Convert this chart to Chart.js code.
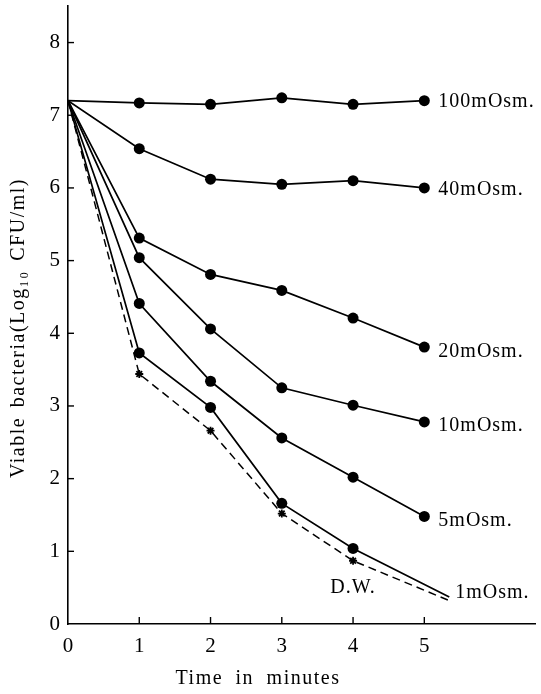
<!DOCTYPE html>
<html>
<head>
<meta charset="utf-8">
<script src="https://cdn.jsdelivr.net/npm/chart.js@4/dist/chart.umd.min.js"></script>
<style>
  html, body { margin: 0; padding: 0; background: #fff; }
  #wrap { width: 541px; height: 694px; }
</style>
</head>
<body>
<div id="wrap"><canvas id="c" width="541" height="694"></canvas></div>
<script>
// ---- data ----
const time = [0, 1, 2, 3, 4, 5];
const osm100 = [7.2, 7.17, 7.15, 7.24, 7.15, 7.2];
const osm40  = [7.2, 6.54, 6.12, 6.05, 6.10, 6.00];
const osm20  = [7.2, 5.31, 4.81, 4.59, 4.21, 3.81];
const osm10  = [7.2, 5.04, 4.06, 3.25, 3.01, 2.78];
const osm5   = [7.2, 4.41, 3.34, 2.56, 2.02, 1.48];
const osm1Time = [0, 1, 2, 3, 4, 5.35];
const osm1   = [7.2, 3.73, 2.98, 1.66, 1.04, 0.37];
const dwTime = [0, 1, 2, 3, 4, 5.33];
const dw     = [7.2, 3.44, 2.66, 1.52, 0.87, 0.33];
const seriesLabels = ['100mOsm.', '40mOsm.', '20mOsm.', '10mOsm.', '5mOsm.', '1mOsm.', 'D.W.'];
const xTicks = [0, 1, 2, 3, 4, 5];
const yTicks = [0, 1, 2, 3, 4, 5, 6, 7, 8];
const xTitle = 'Time in minutes';
const yTitle = 'Viable bacteria(Log\u2081\u2080 CFU/ml)';

const FONT = '"Liberation Serif", "DejaVu Serif", serif';

function pts(xs, ys) { return xs.map((x, i) => ({ x: x, y: ys[i] })); }
function radii(n, r, lastOff) {
  return Array.from({ length: n }, (_, i) => (i === 0 || (lastOff && i === n - 1)) ? 0 : r);
}

function solid(label, xs, ys, lastOff) {
  return {
    label: label,
    data: pts(xs, ys),
    borderColor: '#000',
    backgroundColor: '#000',
    borderWidth: 1.7,
    pointRadius: radii(ys.length, 5.5, lastOff),
    pointBorderWidth: 0,
    pointStyle: 'circle',
    tension: 0,
    fill: false
  };
}

const datasets = [
  solid(seriesLabels[0], time, osm100, false),
  solid(seriesLabels[1], time, osm40, false),
  solid(seriesLabels[2], time, osm20, false),
  solid(seriesLabels[3], time, osm10, false),
  solid(seriesLabels[4], time, osm5, false),
  solid(seriesLabels[5], osm1Time, osm1, true),
  {
    label: seriesLabels[6],
    data: pts(dwTime, dw),
    borderColor: '#000',
    backgroundColor: '#000',
    borderWidth: 1.5,
    borderDash: [8, 5],
    pointRadius: radii(dw.length, 4, true),
    pointBorderWidth: 1.8,
    pointStyle: 'star',
    tension: 0,
    fill: false
  }
];

const whiteBg = {
  id: 'whiteBg',
  beforeDraw(chart) {
    const ctx = chart.ctx;
    ctx.save();
    ctx.fillStyle = '#fff';
    ctx.fillRect(0, 0, chart.width, chart.height);
    ctx.restore();
  }
};

const decor = {
  id: 'decor',
  afterDraw(chart) {
    const ctx = chart.ctx;
    const xs = chart.scales.x, ys = chart.scales.y;
    const x0 = xs.getPixelForValue(0), y0 = ys.getPixelForValue(0);
    ctx.save();
    ctx.strokeStyle = '#000';
    ctx.lineWidth = 1.4;
    // inward tick marks
    xTicks.forEach(v => {
      if (v === 0) return;
      const px = xs.getPixelForValue(v);
      ctx.beginPath(); ctx.moveTo(px, y0); ctx.lineTo(px, y0 - 7); ctx.stroke();
    });
    yTicks.forEach(v => {
      if (v === 0) return;
      const py = ys.getPixelForValue(v);
      ctx.beginPath(); ctx.moveTo(x0, py); ctx.lineTo(x0 + 6, py); ctx.stroke();
    });
    // series labels at line ends
    ctx.fillStyle = '#000';
    ctx.font = '20px ' + FONT;
    ctx.letterSpacing = '1px';
    ctx.textBaseline = 'middle';
    ctx.textAlign = 'left';
    const ends = [
      [time, osm100, 14, 1],
      [time, osm40, 14, 2],
      [time, osm20, 14, 5],
      [time, osm10, 14, 4],
      [time, osm5, 14, 4],
      [osm1Time, osm1, 6, -4]
    ];
    ends.forEach((e, i) => {
      const n = e[1].length - 1;
      const px = xs.getPixelForValue(e[0][n]);
      const py = ys.getPixelForValue(e[1][n]);
      ctx.fillText(seriesLabels[i], px + e[2], py + e[3]);
    });
    // D.W. label
    ctx.textAlign = 'center';
    ctx.fillText(seriesLabels[6], xs.getPixelForValue(4.0), ys.getPixelForValue(0.5));
    // axis titles
    ctx.letterSpacing = '1.5px';
    ctx.wordSpacing = '6px';
    ctx.fillText(xTitle, 258, 679);
    ctx.translate(19, 328);
    ctx.rotate(-Math.PI / 2);
    ctx.wordSpacing = '3px';
    ctx.fillText(yTitle, 0, 0);
    ctx.restore();
  }
};

new Chart(document.getElementById('c'), {
  type: 'line',
  data: { datasets: datasets },
  options: {
    responsive: false,
    animation: false,
    events: [],
    layout: { padding: { top: 5, right: 3, left: 0, bottom: 0 } },
    plugins: { legend: { display: false }, tooltip: { enabled: false }, title: { display: false } },
    scales: {
      x: {
        type: 'linear',
        min: 0,
        max: 6.56,
        afterFit(s) { s.height = 70; s.paddingLeft = 0; s.paddingRight = 0; },
        afterBuildTicks(s) { s.ticks = xTicks.map(v => ({ value: v })); },
        grid: { display: true, drawOnChartArea: false, drawTicks: false },
        border: { display: true, color: '#000', width: 1.6 },
        ticks: {
          autoSkip: false,
          maxRotation: 0,
          padding: 10,
          color: '#000',
          font: { family: FONT, size: 21 }
        }
      },
      y: {
        type: 'linear',
        min: 0,
        max: 8.51,
        afterFit(s) { s.width = 68; s.paddingTop = 0; s.paddingBottom = 0; },
        afterBuildTicks(s) { s.ticks = yTicks.map(v => ({ value: v })); },
        grid: { display: true, drawOnChartArea: false, drawTicks: false },
        border: { display: true, color: '#000', width: 1.6 },
        ticks: {
          autoSkip: false,
          padding: 8,
          color: '#000',
          font: { family: FONT, size: 21 }
        }
      }
    }
  },
  plugins: [whiteBg, decor]
});
</script>
</body>
</html>
